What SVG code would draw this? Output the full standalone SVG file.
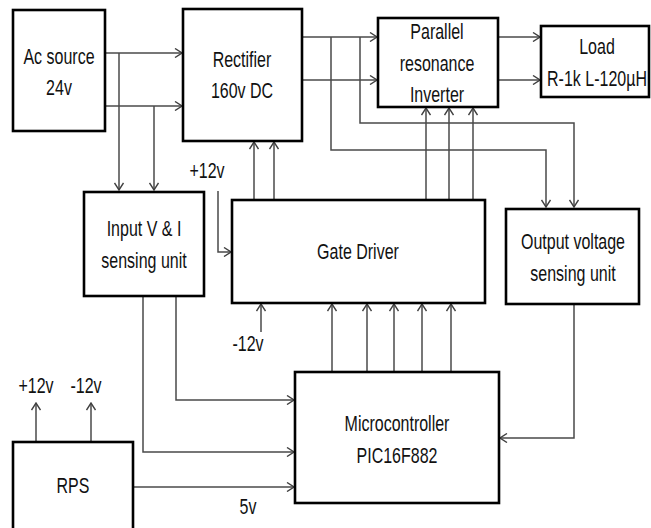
<svg xmlns="http://www.w3.org/2000/svg" width="651" height="528" viewBox="0 0 651 528">
<defs>
<marker id="ah" viewBox="0 0 10 10" refX="9" refY="5" markerWidth="10" markerHeight="10" markerUnits="userSpaceOnUse" orient="auto">
<path d="M2,0.5 L9,5 L2,9.5" fill="none" stroke="#404040" stroke-width="1.4"/>
</marker>
<style>
.box{fill:#fff;stroke:#000;stroke-width:2.6}
.w{fill:none;stroke:#4a4a4a;stroke-width:1.5}
.a{fill:none;stroke:#4a4a4a;stroke-width:1.5;marker-end:url(#ah)}
text{font-family:"Liberation Sans",Arial,sans-serif;font-size:16px;fill:#111;text-anchor:middle}
</style>
</defs>
<rect width="651" height="528" fill="#fff"/>
<g id="connectors">
<path class="a" d="M105,53 H182"/>
<path class="a" d="M105,106 H182"/>
<path class="a" d="M119,53 V190"/>
<path class="a" d="M154,106 V190"/>
<path class="a" d="M302,37 H377"/>
<path class="a" d="M302,80 H377"/>
<path class="a" d="M331,37 V150 H546 V207"/>
<path class="a" d="M360,37 V123 H574 V207"/>
<path class="a" d="M498,37 H540"/>
<path class="a" d="M498,80 H540"/>
<path class="a" d="M254,200 V142"/>
<path class="a" d="M274,200 V142"/>
<path class="a" d="M426,200 V108"/>
<path class="a" d="M449,200 V108"/>
<path class="a" d="M473,200 V108"/>
<path class="a" d="M218,191 V252 H231"/>
<path class="a" d="M261,332 V304"/>
<path class="a" d="M332,372 V304"/>
<path class="a" d="M367,372 V304"/>
<path class="a" d="M394,372 V304"/>
<path class="a" d="M422,372 V304"/>
<path class="a" d="M451,372 V304"/>
<path class="a" d="M574,304 V438 H500"/>
<path class="a" d="M176,296 V400 H294"/>
<path class="a" d="M143,296 V452 H294"/>
<path class="a" d="M133,487 H294"/>
<path class="a" d="M36,442 V403"/>
<path class="a" d="M91,442 V403"/>
</g>
<g id="ac-source">
<rect class="box" x="13" y="10" width="92" height="121"/>
<text transform="translate(59,64) scale(1,1.35)">Ac source</text>
<text transform="translate(59,95) scale(1,1.35)">24v</text>
</g>
<g id="rectifier">
<rect class="box" x="183" y="9" width="119" height="132"/>
<text transform="translate(242,67) scale(1,1.35)">Rectifier</text>
<text transform="translate(242,98) scale(1,1.35)">160v DC</text>
</g>
<g id="inverter">
<rect class="box" x="378" y="18" width="120" height="89"/>
<text transform="translate(437,39) scale(1,1.35)">Parallel</text>
<text transform="translate(437,71) scale(1,1.35)">resonance</text>
<text transform="translate(437,102) scale(1,1.35)">Inverter</text>
</g>
<g id="load">
<rect class="box" x="541" y="26" width="108" height="71"/>
<text transform="translate(597,54) scale(1,1.35)">Load</text>
<text transform="translate(597,86) scale(1,1.35)">R-1k L-120µH</text>
</g>
<g id="input-sensing">
<rect class="box" x="84" y="192" width="120" height="104"/>
<text transform="translate(144,236) scale(1,1.35)">Input V &amp; I</text>
<text transform="translate(144,268) scale(1,1.35)">sensing unit</text>
</g>
<g id="gate-driver">
<rect class="box" x="232" y="200" width="253" height="103"/>
<text transform="translate(358,259) scale(1,1.35)">Gate Driver</text>
</g>
<g id="output-sensing">
<rect class="box" x="506" y="209" width="133" height="95"/>
<text transform="translate(573,249) scale(1,1.35)">Output voltage</text>
<text transform="translate(573,281) scale(1,1.35)">sensing unit</text>
</g>
<g id="microcontroller">
<rect class="box" x="295" y="372" width="204" height="131"/>
<text transform="translate(397,431) scale(1,1.35)">Microcontroller</text>
<text transform="translate(397,463) scale(1,1.35)">PIC16F882</text>
</g>
<g id="rps">
<rect class="box" x="13" y="442" width="120" height="95"/>
<text transform="translate(73,493) scale(1,1.35)">RPS</text>
</g>
<g id="labels">
<text transform="translate(207,178) scale(1,1.35)">+12v</text>
<text transform="translate(248,351) scale(1,1.35)">-12v</text>
<text transform="translate(36,393) scale(1,1.35)">+12v</text>
<text transform="translate(86,393) scale(1,1.35)">-12v</text>
<text transform="translate(248,514) scale(1,1.35)">5v</text>
</g>
</svg>
